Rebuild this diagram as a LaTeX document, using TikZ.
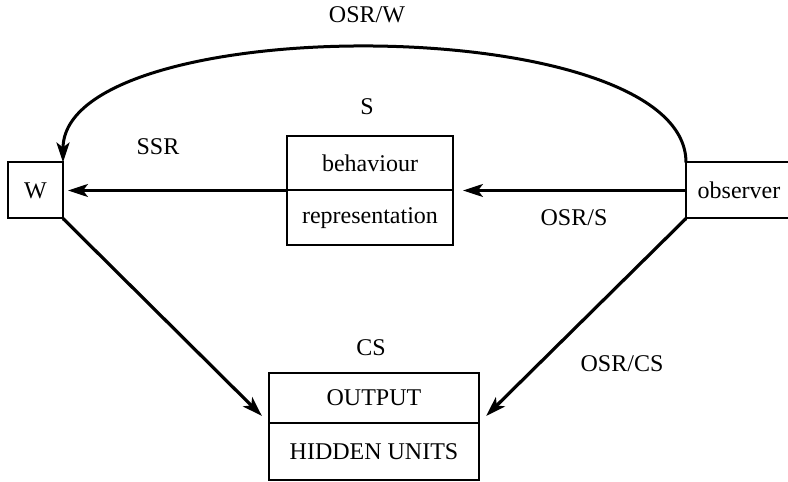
\documentclass[tikz,border=0pt]{standalone}
\usepackage{fontspec}
\setmainfont{Liberation Serif}
\usetikzlibrary{positioning,arrows.meta}
\tikzset{>={Stealth[length=10pt,width=6.5pt,inset=2.5pt]}}
\tikzset{
  blk/.style={draw,line width=1pt,inner sep=0pt,outer sep=0pt},
}

\begin{document}
\begin{tikzpicture}[x=0.5pt,y=0.5pt,font=\fontsize{12}{14}\selectfont]
  \useasboundingbox (0,0) rectangle (788,482);
  % world, system, observer, connectionist system
  \node[blk,minimum width=27.5pt,minimum height=28pt] (W) at (35.5,291.5) {W};
  \node[blk,minimum width=83pt,minimum height=27.25pt] (beh) at (370,318.75) {behaviour};
  \node[blk,minimum width=83pt,minimum height=27.25pt,below=0pt of beh] (rep) {representation};
  \node[blk,minimum width=53pt,minimum height=28pt] (obs) at (739,291.5) {observer};
  \node[blk,minimum width=105pt,minimum height=25pt] (out) at (374,84) {OUTPUT};
  \node[blk,minimum width=105pt,minimum height=28.5pt,below=0pt of out] (hid) {HIDDEN UNITS};
  % labels
  \node (osrw) at (367,467) {OSR/W};
  \node (slbl) at (367,375) {S};
  \node (ssr) at (158,335) {SSR};
  \node (osrs) at (574,264) {OSR/S};
  \node (cslbl) at (371,134) {CS};
  \node (osrcs) at (622,118) {OSR/CS};
  % relations
  \draw [->,line width=1.5pt] (obs.north west) .. controls +(0,153) and +(0,153) .. (W.north east);
  \draw [->,line width=1.2pt,shorten >=5pt] (obs.west) -- (rep.north east);
  \draw [->,line width=1.2pt,shorten >=2.5pt] (rep.north west) -- (W.east);
  \draw [->,line width=1.6pt,shorten >=5pt] (W.south east) -- (out.south west);
  \draw [->,line width=1.6pt,shorten >=5pt] (obs.south west) -- (out.south east);
\end{tikzpicture}
\end{document}
